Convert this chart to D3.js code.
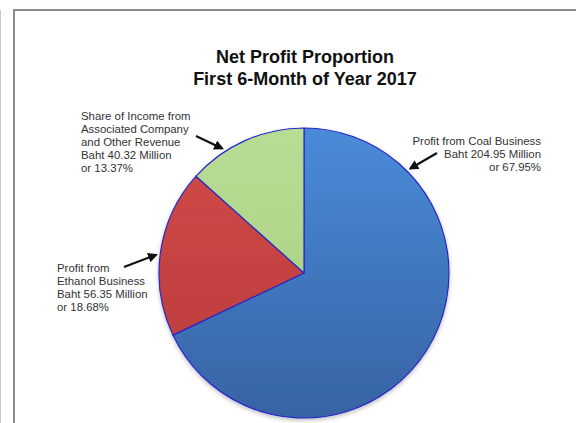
<!DOCTYPE html>
<html>
<head>
<meta charset="utf-8">
<script src="https://cdn.jsdelivr.net/npm/d3@7"></script>
<style>
  body { margin: 0; background: #fff; }
  svg { display: block; font-family: "Liberation Sans", Arial, sans-serif; }
</style>
</head>
<body>
<div id="chart"></div>
<script>
// data
var categories = ["Coal Business", "Ethanol Business", "Associated Company and Other Revenue"];
var valuesMillion = [204.95, 56.35, 40.32];
var percents = ["67.95%", "18.68%", "13.37%"];
var titleLines = ["Net Profit Proportion", "First 6-Month of Year 2017"];
var labelLines = [
    ["Profit from Coal Business", "Baht 204.95 Million", "or 67.95%"],
    ["Profit from", "Ethanol Business", "Baht 56.35 Million", "or 18.68%"],
    ["Share of Income from", "Associated Company", "and Other Revenue", "Baht 40.32 Million", "or 13.37%"]
];

var width = 576, height = 423;
var cx = 304, cy = 273, radius = 145;

// slice colours: [top, bottom] of gradient
var colors = [["#4a8bd9", "#3763a3"], ["#d24a48", "#b83b3b"], ["#b8dc94", "#a6cd7e"]];

// label layout: text position, alignment, arrow tail and tip angle (deg clockwise from top)
var labelLayout = [
    { x: 541, y: 145, anchor: "end",   tail: [437, 153], tipAngle: 45.5 },
    { x: 57,  y: 272, anchor: "start", tail: [124, 267], tipAngle: 277 },
    { x: 81,  y: 120, anchor: "start", tail: [196, 136], tipAngle: 326.7 }
];

var svg = d3.select('#chart')
    .append('svg')
    .attr('width', width)
    .attr('height', height);

var defs = svg.append('defs');

// frame
svg.append('line')
    .attr('x1', 0.5).attr('x2', 0.5)
    .attr('y1', 10).attr('y2', height)
    .attr('stroke', '#c8c8c8').attr('stroke-width', 1);
svg.append('rect')
    .attr('x', 14).attr('y', 10)
    .attr('width', width + 10).attr('height', height + 10)
    .attr('fill', '#fff')
    .attr('stroke', '#8c8c8c')
    .attr('stroke-width', 2);

// title
svg.append('text')
    .attr('x', 305).attr('y', 63)
    .attr('text-anchor', 'middle')
    .style('font-size', '18px')
    .style('font-weight', 'bold')
    .attr('fill', '#111')
    .selectAll('tspan')
    .data(titleLines)
    .enter().append('tspan')
    .attr('x', 305)
    .attr('dy', function(d, i) { return i === 0 ? 0 : 22; })
    .text(function(d) { return d; });

// gradients, in the pie group's coordinates
colors.forEach(function(c, i) {
    var g = defs.append('linearGradient')
        .attr('id', 'grad' + i)
        .attr('gradientUnits', 'userSpaceOnUse')
        .attr('x1', 0).attr('y1', -radius)
        .attr('x2', 0).attr('y2', radius);
    g.append('stop').attr('offset', '0%').attr('stop-color', c[0]);
    g.append('stop').attr('offset', '100%').attr('stop-color', c[1]);
});

// soft shadow
var filter = defs.append('filter').attr('id', 'shadow')
    .attr('x', '-10%').attr('y', '-10%').attr('width', '120%').attr('height', '120%');
filter.append('feDropShadow')
    .attr('dx', 0).attr('dy', 2).attr('stdDeviation', 2)
    .attr('flood-color', '#000').attr('flood-opacity', 0.25);

var pie = d3.pie()
    .sort(null)
    .value(function(d) { return d; });

var arc = d3.arc()
    .innerRadius(0)
    .outerRadius(radius);

var pieG = svg.append('g')
    .attr('transform', 'translate(' + cx + ',' + cy + ')')
    .attr('filter', 'url(#shadow)');

pieG.selectAll('path')
    .data(pie(valuesMillion))
    .enter().append('path')
    .attr('d', arc)
    .attr('fill', function(d, i) { return 'url(#grad' + i + ')'; })
    .attr('stroke', '#2828c8')
    .attr('stroke-width', 1.2)
    .attr('stroke-linejoin', 'round');

// arrow marker
defs.append('marker')
    .attr('id', 'arrowhead')
    .attr('viewBox', '0 0 10 10')
    .attr('refX', 8).attr('refY', 5)
    .attr('markerWidth', 4.5).attr('markerHeight', 4.5)
    .attr('orient', 'auto')
    .append('path')
    .attr('d', 'M0,0 L10,5 L0,10 Z')
    .attr('fill', '#111');

// labels + arrows
var labels = svg.append('g').attr('class', 'labels');
labelLines.forEach(function(lines, i) {
    var lay = labelLayout[i];
    labels.append('text')
        .attr('x', lay.x).attr('y', lay.y)
        .attr('text-anchor', lay.anchor)
        .style('font-size', '11.4px')
        .attr('fill', '#333')
        .selectAll('tspan')
        .data(lines)
        .enter().append('tspan')
        .attr('x', lay.x)
        .attr('dy', function(d, j) { return j === 0 ? 0 : 13; })
        .text(function(d) { return d; });

    var a = lay.tipAngle * Math.PI / 180;
    var tipR = radius + 4;
    labels.append('line')
        .attr('x1', lay.tail[0]).attr('y1', lay.tail[1])
        .attr('x2', cx + tipR * Math.sin(a))
        .attr('y2', cy - tipR * Math.cos(a))
        .attr('stroke', '#111')
        .attr('stroke-width', 2.2)
        .attr('marker-end', 'url(#arrowhead)');
});
</script>
</body>
</html>
